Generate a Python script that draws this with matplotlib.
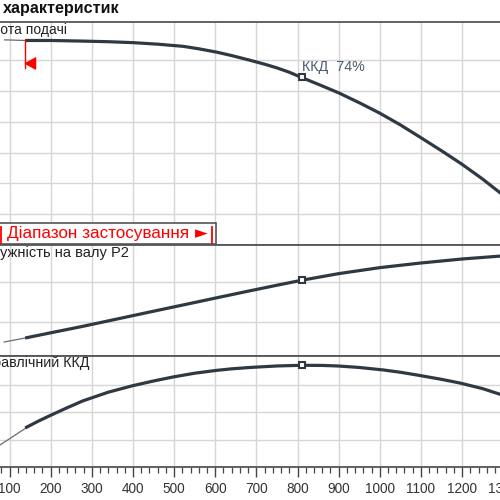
import matplotlib
matplotlib.use('Agg')
import matplotlib.pyplot as plt
from matplotlib.patches import Rectangle
from matplotlib.lines import Line2D
from matplotlib.path import Path

plt.rcParams['font.family'] = ['Liberation Sans', 'DejaVu Sans']

# ---------------- data ----------------
q_ticks = [0, 100, 200, 300, 400, 500, 600, 700, 800, 900, 1000, 1100, 1200, 1300, 1400]
q_range_start = 138
q_best = 810

# head curve (Висота подачі)
q_head_thin = [88, 138]
h_head_thin = [33.3, 33.2]
q_head = [138, 200, 278, 340, 400, 460, 522, 560, 604, 640, 684, 720, 750, 780, 806,
          850, 900, 950, 1000, 1050, 1098, 1150, 1200, 1250, 1292, 1320]
h_head = [33.2, 33.2, 33.1, 33.0, 32.85, 32.6, 32.25, 31.85, 31.3, 30.75, 30.0, 29.35,
          28.75, 28.05, 27.3, 26.1, 24.7, 23.1, 21.4, 19.5, 17.5, 15.3, 13.1, 10.7, 8.5, 6.9]
h_best = 27.3

# shaft power (Потужність на валу P2)
q_pow_thin = [87, 138]
p_pow_thin = [75.0, 80.0]
q_pow = [138, 200, 278, 340, 400, 482, 540, 600, 684, 750, 811, 900, 1000, 1098, 1200,
         1292, 1320]
p_pow = [80.0, 86.5, 94.6, 101.4, 108.0, 117.0, 123.3, 129.9, 139.0, 146.0, 152.3, 160.5,
         168.0, 173.7, 178.8, 182.4, 183.3]
p_best = 152.3

# hydraulic efficiency (Гідравлічний ККД)
q_eff_thin = [70, 138]
e_eff_thin = [14.8, 28.2]
q_eff = [138, 170, 198, 240, 278, 340, 400, 450, 497, 550, 604, 640, 684, 750, 811,
         860, 898, 950, 1008, 1050, 1090, 1150, 1195, 1250, 1292, 1320]
e_eff = [28.6, 33.6, 37.6, 43.4, 48.4, 54.8, 59.6, 63.0, 65.9, 68.7, 70.8, 71.9, 72.9,
         74.0, 74.5, 74.4, 74.0, 72.9, 71.1, 69.4, 67.4, 64.2, 61.5, 57.4, 53.3, 50.2]
e_best = 74.5

head_grid = [5, 10, 15, 20, 25, 30]
pow_grid = [100, 150]
eff_grid = [0, 20, 40, 60]

# ---------------- layout helpers ----------------
W = H = 500
def fx(px): return px / W
def fy(py): return 1 - py / H

X0_PX = -31.6           # pixel of Q = 0
PX_PER_Q = 0.4114
XMAX = 1400
ax_left = fx(X0_PX)
ax_w = XMAX * PX_PER_Q / W

fig = plt.figure(figsize=(5, 5), dpi=100)
fig.patch.set_facecolor('white')

ax1 = fig.add_axes([ax_left, fy(245), ax_w, (245 - 22) / H])
ax2 = fig.add_axes([ax_left, fy(356), ax_w, (356 - 245) / H])
ax3 = fig.add_axes([ax_left, fy(467), ax_w, (467 - 356) / H])

CURVE = '#2f3943'
THIN = '#6b6b6b'
GRID = '#d6d6d6'
SPINE = '#555555'

for ax, yl, yg in [(ax1, (0, 36.2), head_grid),
                   (ax2, (57.5, 196.3), pow_grid),
                   (ax3, (0, 81.3), eff_grid)]:
    ax.set_xlim(0, XMAX)
    ax.set_ylim(*yl)
    ax.set_xticks(q_ticks)
    ax.set_xticks(range(0, XMAX + 1, 20), minor=True)
    ax.set_yticks(yg)
    ax.grid(True, which='major', color=GRID, lw=1.0)
    ax.tick_params(axis='y', length=0, labelleft=False)
    for s in ax.spines.values():
        s.set_color(SPINE)
        s.set_linewidth(1.3)
    ax.set_axisbelow(True)

for ax in (ax1, ax2):
    ax.tick_params(axis='x', which='both', length=0, labelbottom=False)

ax3.tick_params(axis='x', which='major', length=7.2, width=1.0, color='#444444',
                direction='out', labelsize=9.8, pad=3.8, labelcolor='#333333')
ax3.tick_params(axis='x', which='minor', length=4.3, width=0.9, color='#444444',
                direction='out')
ax3.set_xticklabels([str(v) for v in q_ticks])

# curves
ax1.plot(q_head_thin, h_head_thin, color=THIN, lw=0.9)
ax1.plot(q_head, h_head, color=CURVE, lw=2.3, solid_capstyle='butt', solid_joinstyle='round')
ax2.plot(q_pow_thin, p_pow_thin, color=THIN, lw=0.9)
ax2.plot(q_pow, p_pow, color=CURVE, lw=2.3, solid_capstyle='butt', solid_joinstyle='round')
ax3.plot(q_eff_thin, e_eff_thin, color=THIN, lw=0.9)
ax3.plot(q_eff, e_eff, color=CURVE, lw=2.3, solid_capstyle='butt', solid_joinstyle='round')

mk = dict(marker='s', ms=5, mfc='white', mec=CURVE, mew=1.5, ls='none', zorder=5)
ax1.plot([q_best], [h_best], **mk)
ax2.plot([q_best], [p_best], **mk)
ax3.plot([q_best], [e_best], **mk)

ax1.annotate('ККД  74%', xy=(q_best, h_best), xytext=(0.5, 7), textcoords='offset points',
             fontsize=10.3, color='#4b5a6e', ha='left', va='center')

# red application-range start marker
ax1.plot([q_range_start, q_range_start], [28.7, 33.2], color='red', lw=1.0)
tri = Path([(0, 0), (1, 0.55), (1, -0.55), (0, 0)],
           [Path.MOVETO, Path.LINETO, Path.LINETO, Path.CLOSEPOLY])
ax1.plot([q_range_start], [29.5], marker=tri, ms=14.5, color='red', ls='none')

# panel labels
fig.text(fx(3), fy(9), 'характеристик', fontsize=11.6, fontweight='bold',
         ha='left', va='center', color='#111111')
fig.text(fx(67), fy(30), 'Висота подачі', fontsize=10, ha='right', va='center', color='#222222')
fig.text(fx(129), fy(253), 'Потужність на валу P2', fontsize=10.5, ha='right', va='center',
         color='#222222')
fig.text(fx(89), fy(363), 'Гідравлічний ККД', fontsize=10.3, ha='right', va='center',
         color='#222222')

# application range box
box = Rectangle((fx(-5), fy(244)), 221 / W, 21 / H, transform=fig.transFigure,
                facecolor='white', edgecolor=SPINE, lw=1.2, zorder=10)
fig.patches.append(box)
fig.text(fx(7), fy(233.5), 'Діапазон застосування', fontsize=12.3, color='red',
         ha='left', va='center', zorder=11)
fig.text(fx(195), fy(233), '►', fontsize=12, color='red', ha='left', va='center',
         family=['DejaVu Sans'], zorder=11)
for xp in (1, 212):
    fig.lines.append(Line2D([fx(xp), fx(xp)], [fy(243), fy(227)], transform=fig.transFigure,
                            color='red', lw=1.3, zorder=11))

fig.savefig('out.png', dpi=100, facecolor='white')
